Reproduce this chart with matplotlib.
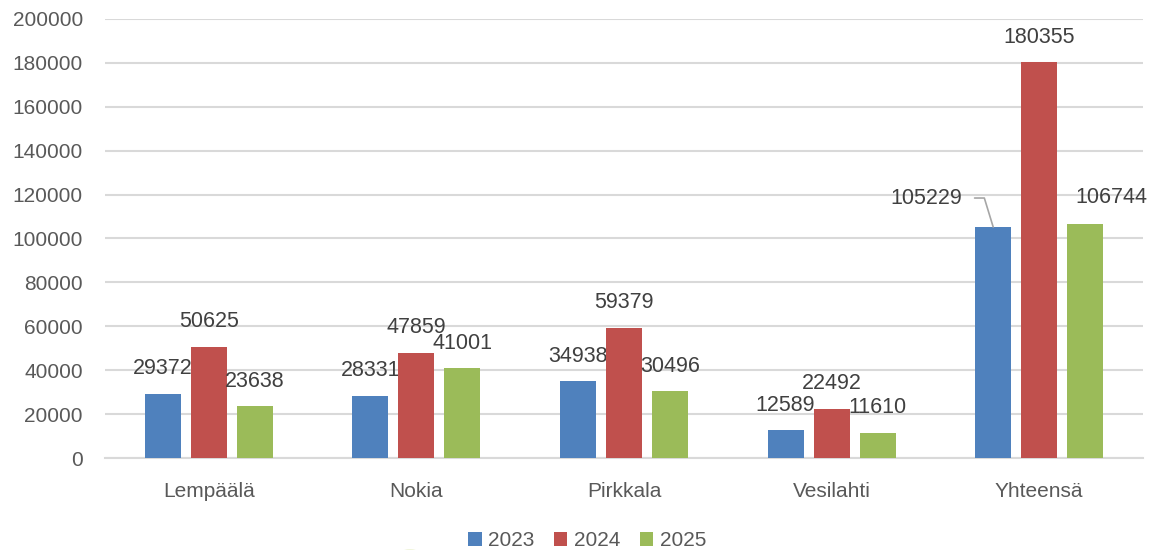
import matplotlib.pyplot as plt
import numpy as np
from matplotlib.patches import Circle

# data
kunnat = ["Lempäälä", "Nokia", "Pirkkala", "Vesilahti", "Yhteensä"]
vuodet = ["2023", "2024", "2025"]
v2023 = [29372, 28331, 34938, 12589, 105229]
v2024 = [50625, 47859, 59379, 22492, 180355]
v2025 = [23638, 41001, 30496, 11610, 106744]
y_ticks = list(range(0, 200001, 20000))

colors = ["#4F81BD", "#C0504D", "#9BBB59"]
text_col = "#595959"
label_col = "#404040"

plt.rcParams['font.family'] = ['Liberation Sans', 'DejaVu Sans']

fig = plt.figure(figsize=(11.51, 5.5), dpi=100)
ax = fig.add_axes([105 / 1151, 1 - 458 / 550, 1038 / 1151, 439 / 550])

x = np.arange(len(kunnat))
width = 0.173
step = 0.2216

for i, (vals, col) in enumerate(zip([v2023, v2024, v2025], colors)):
    pos = x + (i - 1) * step
    ax.bar(pos, vals, width, color=col, label=vuodet[i], zorder=3)
    for j, (px, v) in enumerate(zip(pos, vals)):
        # Yhteensä labels were moved by hand in the original
        if j == 4 and i == 0:
            ax.annotate(str(v), xy=(px, v), xytext=(-67, 29), textcoords='offset pixels',
                        ha='center', va='center', fontsize=15.5, color=label_col,
                        arrowprops=dict(arrowstyle='-', color='#A6A6A6', lw=1.2,
                                        connectionstyle='angle,angleA=0,angleB=107,rad=0',
                                        relpos=(1, 0.5), shrinkA=7, shrinkB=0))
        elif j == 4 and i == 2:
            ax.annotate(str(v), xy=(px, v), xytext=(26, 26), textcoords='offset pixels',
                        ha='center', va='center', fontsize=15.5, color=label_col)
        else:
            ax.annotate(str(v), xy=(px, v), xytext=(0, 25), textcoords='offset pixels',
                        ha='center', va='center', fontsize=15.5, color=label_col)

ax.set_xlim(-0.5, len(kunnat) - 0.5)
ax.set_ylim(0, 200000)
ax.set_yticks(y_ticks)
ax.set_yticklabels([str(t) for t in y_ticks])
ax.set_xticks(x)
ax.set_xticklabels(kunnat)
ax.tick_params(axis='y', length=0, pad=16, labelsize=15, labelcolor=text_col)
ax.tick_params(axis='x', length=0, pad=17, labelsize=15, labelcolor=text_col)
ax.grid(axis='y', color='#D9D9D9', lw=1.5, zorder=0)
for s in ['top', 'right', 'left']:
    ax.spines[s].set_visible(False)
ax.spines['bottom'].set_color('#D9D9D9')
ax.spines['bottom'].set_linewidth(1.5)

fig.legend(loc='center', bbox_to_anchor=(587 / 1151, 1 - 541 / 550), ncol=3,
           frameon=False, fontsize=15, labelcolor=text_col, handlelength=0.65,
           handleheight=0.65, handletextpad=0.3, columnspacing=0.95)

# faint yellow blob seen at the bottom of the original
fig.patches.append(Circle((410 / 1151, 1 - 556 / 550), 14 / 1151, transform=fig.transFigure,
                          facecolor='#EAF1CC', edgecolor='none', zorder=0))

fig.savefig("out.png", dpi=100)
